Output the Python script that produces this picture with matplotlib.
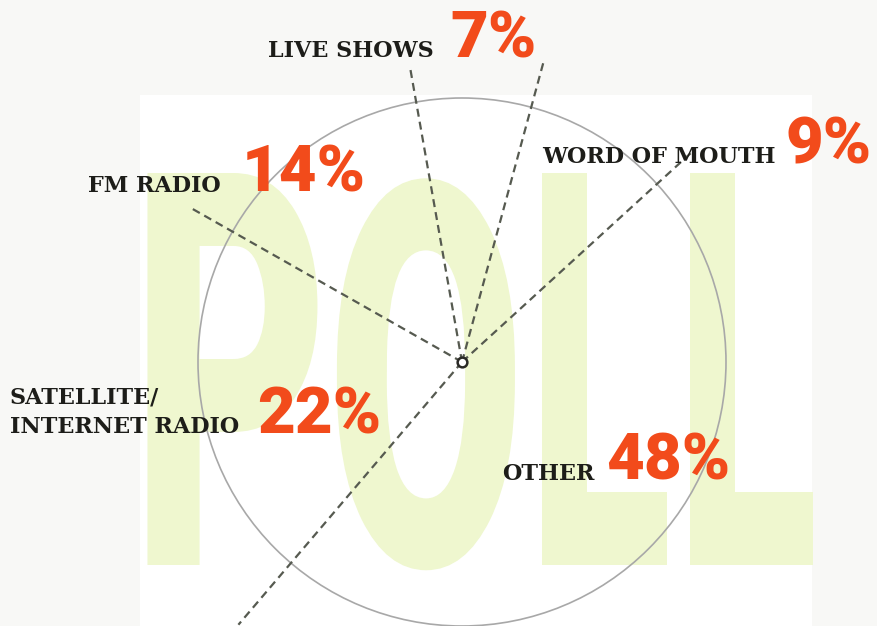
import numpy as np
import matplotlib
matplotlib.use('Agg')
import matplotlib.pyplot as plt
from matplotlib import patheffects as pe
from matplotlib.patches import Circle, Rectangle
from matplotlib.textpath import TextPath
from matplotlib.font_manager import FontProperties
from matplotlib.transforms import Affine2D

# poll answers, going clockwise from the top
labels = ['LIVE SHOWS', 'WORD OF MOUTH', 'OTHER', 'SATELLITE/\nINTERNET RADIO', 'FM RADIO']
shares = [7, 9, 48, 22, 14]

# where each label / percentage sits (pixels, y down): label x, label baseline, pct x
label_pos = [(268, 57, 450), (542, 163, 786), (502, 480, 606), (10, 433, 257), (88, 192, 242)]
# how far each dashed boundary runs out from the centre
line_len = [298, 310, 310, 345, 310]

W, H = 878, 626
fig = plt.figure(figsize=(W / 100, H / 100), dpi=100)
fig.patch.set_facecolor('#f8f8f6')
ax = fig.add_axes([0, 0, 1, 1])
ax.set_xlim(0, W)
ax.set_ylim(H, 0)
ax.axis('off')


# squeeze a text horizontally around a point (display coords)
class Squeeze(pe.AbstractPathEffect):
    def __init__(self, sx, origin):
        super().__init__()
        self.sx = sx
        self.origin = origin

    def draw_path(self, renderer, gc, tpath, affine, rgbFace=None):
        ox, oy = self.origin
        sq = Affine2D().translate(-ox, -oy).scale(self.sx, 1).translate(ox, oy)
        renderer.draw_path(gc, tpath, affine + sq, rgbFace)


# white panel behind the chart
ax.add_patch(Rectangle((140, 95), 672, 540, fc='white', ec='none', zorder=0))

# big pale "POLL" in the background, one letter at a time
poll_font = FontProperties(family='Roboto', weight='black')
boxes = [(145, 315), (337, 515), (537, 662), (685, 808)]
top, bottom = 173, 565
for ch, (x0, x1) in zip('POLL', boxes):
    ext = TextPath((0, 0), ch, size=100, prop=poll_font).get_extents()
    fs = 72.0 * (bottom - top) / ext.height
    natural_w = ext.width * fs / 72.0
    xc = (x0 + x1) / 2.0
    origin = ax.transData.transform((xc, bottom))
    ax.text(xc, bottom, ch, fontproperties=poll_font, size=fs, color='#eff7cf',
            ha='center', va='baseline', zorder=1,
            path_effects=[Squeeze((x1 - x0) / natural_w, origin)])

# the pie: outline circle + dashed slice boundaries
cx, cy, r = 462, 362, 264
ax.add_patch(Circle((cx, cy), r, fill=False, ec='#a8a8a8', lw=1.2, zorder=2))

start = -10
cum = np.concatenate([[0], np.cumsum(shares)[:-1]])
theta = np.deg2rad(start + 360 * cum / 100.0)
for t, ln in zip(theta, line_len):
    ax.plot([cx, cx + ln * np.sin(t)], [cy, cy - ln * np.cos(t)],
            ls=(0, (3.6, 2.3)), color='#565a50', lw=1.6, zorder=3)
ax.plot(cx, cy, 'o', ms=7, mfc='white', mec='#2a2a26', mew=1.8, zorder=4)

# labels
label_kw = dict(family='DejaVu Serif', weight='bold', size=16, color='#1d1d19',
                ha='left', va='baseline', zorder=5)
pct_kw = dict(family='Roboto', weight='black', size=47, color='#f24b1b',
              ha='left', va='baseline', zorder=5)
for lab, s, (lx, ly, px) in zip(labels, shares, label_pos):
    lines = lab.split('\n')
    for i, line in enumerate(lines):
        ax.text(lx, ly - 30 * (len(lines) - 1 - i), line, **label_kw)
    ax.text(px, ly, f'{s}%', **pct_kw)

fig.savefig('out.png', dpi=100, facecolor=fig.get_facecolor())
